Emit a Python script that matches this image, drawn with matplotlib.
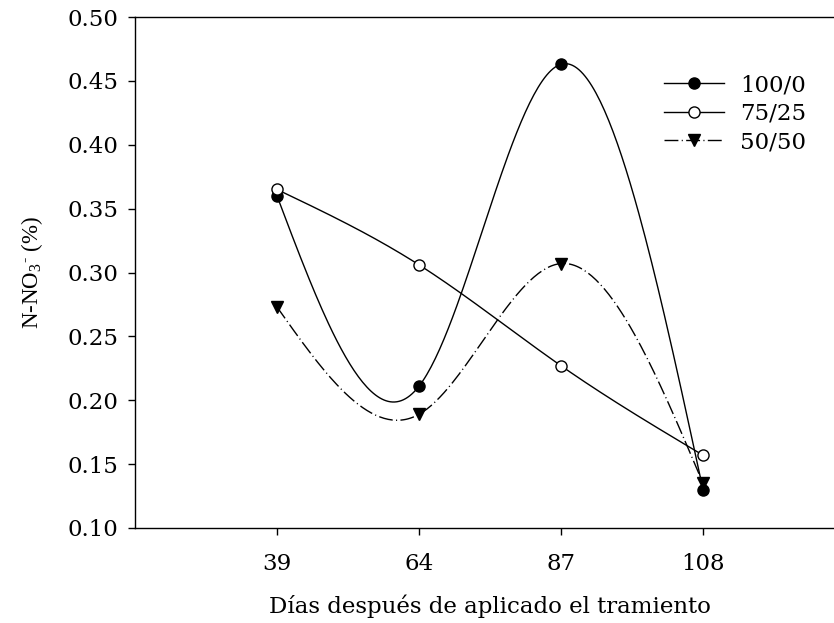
import numpy as np
import matplotlib
matplotlib.use("Agg")
from matplotlib import pyplot as plt

# Sampling days and nitrate content for each treatment
days = ["39", "64", "87", "108"]
n_100_0 = [0.360, 0.211, 0.463, 0.130]
n_75_25 = [0.365, 0.306, 0.227, 0.157]
n_50_50 = [0.273, 0.189, 0.307, 0.135]


def natural_spline(x, y, n=200):
    # Natural cubic spline through the points, evaluated on a fine grid
    x = np.asarray(x, float)
    y = np.asarray(y, float)
    k = len(x)
    h = np.diff(x)
    A = np.zeros((k, k))
    b = np.zeros(k)
    A[0, 0] = A[-1, -1] = 1.0
    for i in range(1, k - 1):
        A[i, i - 1] = h[i - 1]
        A[i, i] = 2 * (h[i - 1] + h[i])
        A[i, i + 1] = h[i]
        b[i] = 6 * ((y[i + 1] - y[i]) / h[i] - (y[i] - y[i - 1]) / h[i - 1])
    M = np.linalg.solve(A, b)
    xs = np.linspace(x[0], x[-1], n)
    idx = np.clip(np.searchsorted(x, xs) - 1, 0, k - 2)
    x0, x1 = x[idx], x[idx + 1]
    hh = x1 - x0
    t0, t1 = x1 - xs, xs - x0
    ys = (M[idx] * t0 ** 3 + M[idx + 1] * t1 ** 3) / (6 * hh) \
        + (y[idx] / hh - M[idx] * hh / 6) * t0 \
        + (y[idx + 1] / hh - M[idx + 1] * hh / 6) * t1
    return xs, ys


plt.rcParams["font.family"] = "DejaVu Serif"
plt.rcParams["mathtext.fontset"] = "custom"
plt.rcParams["mathtext.rm"] = "Liberation Serif"
plt.rcParams["mathtext.it"] = "Liberation Serif"

fig = plt.figure(figsize=(8.34, 6.23), dpi=100)
ax = fig.add_axes([135 / 834, 95 / 623, 710 / 834, 511 / 623])

pos = np.arange(1, len(days) + 1)
dash = (0, (10, 2.4, 0.8, 2.4))
series = [
    ("100/0", n_100_0, dict(marker="o", mfc="black", ls="-")),
    ("75/25", n_75_25, dict(marker="o", mfc="white", ls="-")),
    ("50/50", n_50_50, dict(marker="v", mfc="black", ls=dash)),
]
for label, vals, st in series:
    xs, ys = natural_spline(pos, vals)
    ax.plot(xs, ys, color="black", lw=1.0, ls=st["ls"])
    ax.plot(pos, vals, ls="none", marker=st["marker"], mfc=st["mfc"],
            mec="black", mew=1.0, ms=8, zorder=3)
    ax.plot([], [], color="black", lw=1.0, ls=st["ls"], marker=st["marker"],
            mfc=st["mfc"], mec="black", mew=1.0, ms=8, label=label)

ax.set_xlim(0, 5)
ax.set_ylim(0.10, 0.50)
ax.set_xticks(pos)
ax.set_xticklabels(days)
ax.set_yticks(np.arange(0.10, 0.501, 0.05))
ax.set_yticklabels([f"{v:.2f}" for v in np.arange(0.10, 0.501, 0.05)])
ax.spines["right"].set_visible(False)
for s in ["left", "top", "bottom"]:
    ax.spines[s].set_linewidth(1.0)
ax.tick_params(axis="both", direction="out", length=5, width=1.0,
               labelsize=16.5)
ax.tick_params(axis="y", pad=7)
ax.tick_params(axis="x", pad=13)

ax.set_xlabel("Días después de aplicado el tramiento", fontsize=16.5,
              labelpad=14)
fig.text(32 / 834, 1 - 272 / 623, r"N-NO$_3$$^{\text{-}}$ (%)", rotation=90,
         ha="center", va="center", fontsize=16.5, family="Liberation Serif")

leg = ax.legend(loc="upper left", bbox_to_anchor=(653 / 834, 1 - 63 / 623),
                bbox_transform=fig.transFigure, frameon=False, fontsize=16.5,
                handlelength=2.6, labelspacing=0.28, handletextpad=0.7,
                borderpad=0)

fig.savefig("out.png", dpi=100)
